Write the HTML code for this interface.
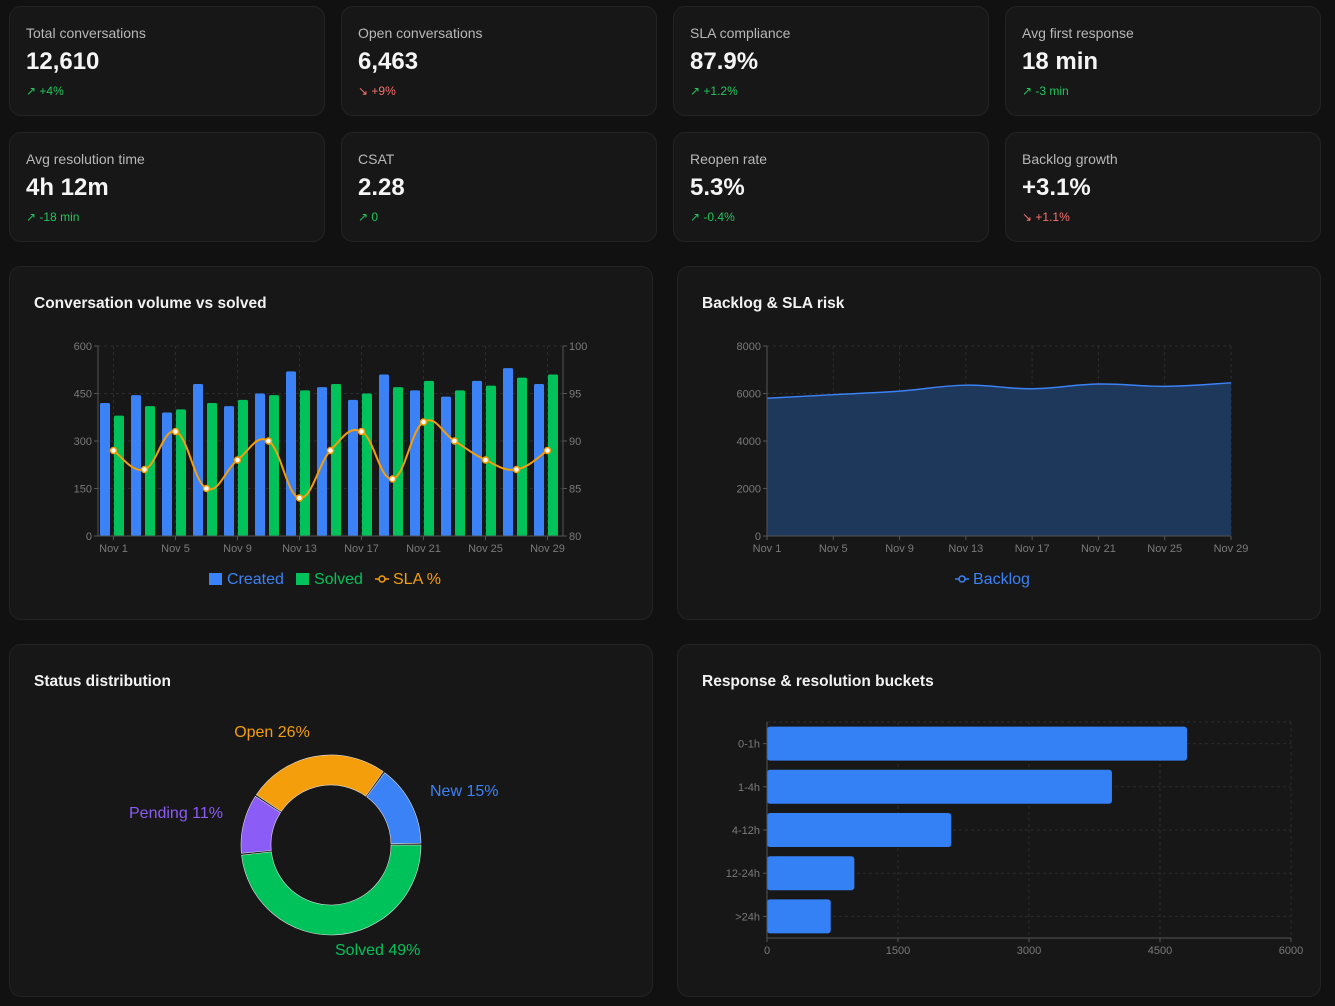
<!DOCTYPE html>
<html><head><meta charset="utf-8">
<style>
*{box-sizing:border-box;margin:0;padding:0}
body{width:1335px;height:1006px;background:#111111;font-family:"Liberation Sans",sans-serif;color:#fff;position:relative;overflow:hidden}
.card{position:absolute;background:#171717;border:1px solid #232323;border-radius:12px}
.kpi .lbl{position:absolute;left:16px;top:18px;font-size:14px;color:#b8b8b8}
.kpi .val{position:absolute;left:16px;top:41px;font-size:24px;font-weight:bold;color:#f5f5f5}
.kpi .d{position:absolute;left:16px;top:77px;font-size:12px}
.up{color:#22c55e}.dn{color:#f87171}
.title{position:absolute;left:24px;top:28px;font-size:15.5px;font-weight:bold;color:#f2f2f2}
svg{position:absolute;left:0;top:0}
</style></head><body>
<div class="card kpi" style="left:9px;top:6px;width:316px;height:110px"><div class="lbl">Total conversations</div><div class="val">12,610</div><div class="d up">↗ +4%</div></div>
<div class="card kpi" style="left:341px;top:6px;width:316px;height:110px"><div class="lbl">Open conversations</div><div class="val">6,463</div><div class="d dn">↘ +9%</div></div>
<div class="card kpi" style="left:673px;top:6px;width:316px;height:110px"><div class="lbl">SLA compliance</div><div class="val">87.9%</div><div class="d up">↗ +1.2%</div></div>
<div class="card kpi" style="left:1005px;top:6px;width:316px;height:110px"><div class="lbl">Avg first response</div><div class="val">18 min</div><div class="d up">↗ -3 min</div></div>
<div class="card kpi" style="left:9px;top:132px;width:316px;height:110px"><div class="lbl">Avg resolution time</div><div class="val">4h 12m</div><div class="d up">↗ -18 min</div></div>
<div class="card kpi" style="left:341px;top:132px;width:316px;height:110px"><div class="lbl">CSAT</div><div class="val">2.28</div><div class="d up">↗ 0</div></div>
<div class="card kpi" style="left:673px;top:132px;width:316px;height:110px"><div class="lbl">Reopen rate</div><div class="val">5.3%</div><div class="d up">↗ -0.4%</div></div>
<div class="card kpi" style="left:1005px;top:132px;width:316px;height:110px"><div class="lbl">Backlog growth</div><div class="val">+3.1%</div><div class="d dn">↘ +1.1%</div></div>

<div class="card" style="left:9px;top:266px;width:644px;height:354px"><div class="title">Conversation volume vs solved</div></div>
<div class="card" style="left:677px;top:266px;width:644px;height:354px"><div class="title">Backlog &amp; SLA risk</div></div>
<div class="card" style="left:9px;top:644px;width:644px;height:353px"><div class="title">Status distribution</div></div>
<div class="card" style="left:677px;top:644px;width:644px;height:353px"><div class="title">Response &amp; resolution buckets</div></div>

<svg id="s" width="1335" height="1006" font-family="Liberation Sans, sans-serif"></svg>
<script>
const days=["Nov 1","Nov 3","Nov 5","Nov 7","Nov 9","Nov 11","Nov 13","Nov 15","Nov 17","Nov 19","Nov 21","Nov 23","Nov 25","Nov 27","Nov 29"];
const created=[420,445,390,480,410,450,520,470,430,510,460,440,490,530,480];
const solved=[380,410,400,420,430,445,460,480,450,470,490,460,475,500,510];
const sla=[89,87,91,85,88,90,84,89,91,86,92,90,88,87,89];
const volTicks=[0,150,300,450,600];
const slaTicks=[80,85,90,95,100];
const backlogDays=["Nov 1","Nov 5","Nov 9","Nov 13","Nov 17","Nov 21","Nov 25","Nov 29"];
const backlog=[5800,5950,6100,6350,6200,6400,6300,6450];
const backlogTicks=[0,2000,4000,6000,8000];
const statusLabels=["New","Solved","Pending","Open"];
const statusValues=[15,49,11,26];
const statusColors=["#3b82f6","#00c25a","#8b5cf6","#f59e0b"];
const buckets=["0-1h","1-4h","4-12h","12-24h",">24h"];
const bucketValues=[4810,3950,2110,1000,730];
const bucketTicks=[0,1500,3000,4500,6000];

const S=document.getElementById('s');const NS='http://www.w3.org/2000/svg';
function mk(t,a,txt){const e=document.createElementNS(NS,t);for(const k in a)e.setAttribute(k,a[k]);if(txt!=null)e.textContent=txt;S.appendChild(e);return e;}
function smooth(p){let d='M'+p[0][0]+','+p[0][1];for(let i=0;i<p.length-1;i++){const p0=p[i-1]||p[i],p1=p[i],p2=p[i+1],p3=p[i+2]||p2;const t=0.2;d+=' C'+(p1[0]+(p2[0]-p0[0])*t)+','+(p1[1]+(p2[1]-p0[1])*t)+' '+(p2[0]-(p3[0]-p1[0])*t)+','+(p2[1]-(p3[1]-p1[1])*t)+' '+p2[0]+','+p2[1];}return d;}
const G='#2c2c2c',AX='#555',TX='#7a7a7a';

// Chart 1
(function(){const L=98,R=563,T=346,B=536;const y=v=>B-(v/600)*(B-T);const y2=v=>B-((v-80)/20)*(B-T);const bw=(R-L)/days.length;const cx=i=>L+bw*(i+0.5);
volTicks.forEach((v,i)=>{let e=mk('line',{x1:L,x2:R,y1:y(v),y2:y(v),stroke:G,'stroke-dasharray':'3,3'});
e=mk('text',{x:L-6,y:y(v)+4,'text-anchor':'end','font-size':11,fill:TX},v);
e=mk('text',{x:R+6,y:y2(slaTicks[i])+4,'font-size':11,fill:TX},slaTicks[i]);
mk('line',{x1:L-4,x2:L,y1:y(v),y2:y(v),stroke:AX});mk('line',{x1:R,x2:R+4,y1:y(v),y2:y(v),stroke:AX});});
days.forEach((d,i)=>{if(i%2==0){mk('line',{x1:cx(i),x2:cx(i),y1:T,y2:B,stroke:G,'stroke-dasharray':'3,3'});let e=mk('text',{x:cx(i),y:B+16,'text-anchor':'middle','font-size':11,fill:TX},d);mk('line',{x1:cx(i),x2:cx(i),y1:B,y2:B+4,stroke:AX});}
let e=mk('rect',{x:cx(i)-13.5,y:y(created[i]),width:10,height:B-y(created[i]),fill:'#3b82f6',rx:1.5});
e=mk('rect',{x:cx(i)+0.5,y:y(solved[i]),width:10,height:B-y(solved[i]),fill:'#00c25a',rx:1.5});});
mk('line',{x1:L,x2:L,y1:T,y2:B,stroke:AX});mk('line',{x1:R,x2:R,y1:T,y2:B,stroke:AX});mk('line',{x1:L,x2:R,y1:B,y2:B,stroke:AX});
const pts=sla.map((v,i)=>[cx(i),y2(v)]);let e=mk('path',{d:smooth(pts),fill:'none',stroke:'#f59e0b','stroke-width':2});
pts.forEach(p=>{const c=mk('circle',{cx:p[0],cy:p[1],r:3,fill:'#fff',stroke:'#f59e0b','stroke-width':1.5});});
mk('rect',{x:209,y:573,width:13,height:12,fill:'#3b82f6'});mk('text',{x:227,y:584,'font-size':16,fill:'#3b82f6'},'Created');
mk('rect',{x:296,y:573,width:13,height:12,fill:'#00c25a'});mk('text',{x:314,y:584,'font-size':16,fill:'#00c25a'},'Solved');
mk('line',{x1:375,x2:389,y1:579,y2:579,stroke:'#f59e0b','stroke-width':1.5});mk('circle',{cx:382,cy:579,r:3,fill:'#171717',stroke:'#f59e0b','stroke-width':1.5});mk('text',{x:393,y:584,'font-size':16,fill:'#f59e0b'},'SLA %');})();

// Chart 2
(function(){const L=767,R=1231,T=346,B=536;const y=v=>B-(v/8000)*(B-T);const x=i=>L+i*(R-L)/(backlogDays.length-1);
backlogTicks.forEach(v=>{mk('line',{x1:L,x2:R,y1:y(v),y2:y(v),stroke:G,'stroke-dasharray':'3,3'});mk('line',{x1:L-4,x2:L,y1:y(v),y2:y(v),stroke:AX});let e=mk('text',{x:L-6,y:y(v)+4,'text-anchor':'end','font-size':11,fill:TX},v);});
backlogDays.forEach((d,i)=>{mk('line',{x1:x(i),x2:x(i),y1:T,y2:B,stroke:G,'stroke-dasharray':'3,3'});mk('line',{x1:x(i),x2:x(i),y1:B,y2:B+4,stroke:AX});let e=mk('text',{x:x(i),y:B+16,'text-anchor':'middle','font-size':11,fill:TX},d);});
const pts=backlog.map((v,i)=>[x(i),y(v)]);const d=smooth(pts);
let e=mk('path',{d:d+' L'+R+','+B+' L'+L+','+B+' Z',fill:'#1e3a5f','fill-opacity':0.95});
e=mk('path',{d:d,fill:'none',stroke:'#3b82f6','stroke-width':1.5});
mk('line',{x1:L,x2:L,y1:T,y2:B,stroke:AX});mk('line',{x1:L,x2:R,y1:B,y2:B,stroke:AX});
mk('line',{x1:955,x2:969,y1:579,y2:579,stroke:'#3b82f6','stroke-width':1.5});mk('circle',{cx:962,cy:579,r:3,fill:'#171717',stroke:'#3b82f6','stroke-width':1.5});mk('text',{x:973,y:584,'font-size':16,fill:'#3b82f6'},'Backlog');})();

// Donut
(function(){const cx=331,cy=845,ro=90,ri=60;const tot=statusValues.reduce((a,b)=>a+b,0);let a=36;
const pt=(ang,r)=>[cx+r*Math.sin(ang*Math.PI/180),cy-r*Math.cos(ang*Math.PI/180)];
const lp=[[430,796,'start'],[335,955,'start'],[223,818,'end'],[272,737,'middle']];
statusValues.forEach((v,i)=>{const s=a+0.6,en=a+v/tot*360-0.6;const lg=(en-s)>180?1:0;const p1=pt(s,ro),p2=pt(en,ro),p3=pt(en,ri),p4=pt(s,ri);
const e=mk('path',{d:`M${p1} A${ro},${ro} 0 ${lg} 1 ${p2} L${p3} A${ri},${ri} 0 ${lg} 0 ${p4} Z`,fill:statusColors[i],stroke:'#ddd','stroke-width':0.6});
const t=mk('text',{x:lp[i][0],y:lp[i][1],'text-anchor':lp[i][2],'font-size':16,fill:statusColors[i]},statusLabels[i]+' '+v+'%');a+=v/tot*360;});})();

// Horizontal bars
(function(){const L=767,R=1291,T=722,B=938;const x=v=>L+(v/6000)*(R-L);const bh=(B-T)/buckets.length;
bucketTicks.forEach(v=>{mk('line',{x1:x(v),x2:x(v),y1:T,y2:B,stroke:G,'stroke-dasharray':'3,3'});mk('line',{x1:x(v),x2:x(v),y1:B,y2:B+4,stroke:AX});let e=mk('text',{x:x(v),y:B+16,'text-anchor':'middle','font-size':11,fill:TX},v);});
mk('line',{x1:L,x2:R,y1:T,y2:T,stroke:G,'stroke-dasharray':'3,3'});
buckets.forEach((b,i)=>{const cy=T+bh*(i+0.5);mk('line',{x1:L,x2:R,y1:cy,y2:cy,stroke:G,'stroke-dasharray':'3,3'});mk('line',{x1:L-4,x2:L,y1:cy,y2:cy,stroke:AX});
let e=mk('text',{x:L-7,y:cy+4,'text-anchor':'end','font-size':11,fill:TX},b);
e=mk('rect',{x:L,y:cy-17,width:x(bucketValues[i])-L,height:34,fill:'#3381f5',rx:3});});
mk('line',{x1:L,x2:L,y1:T,y2:B,stroke:AX});mk('line',{x1:L,x2:R,y1:B,y2:B,stroke:AX});})();
</script>
</body></html>
